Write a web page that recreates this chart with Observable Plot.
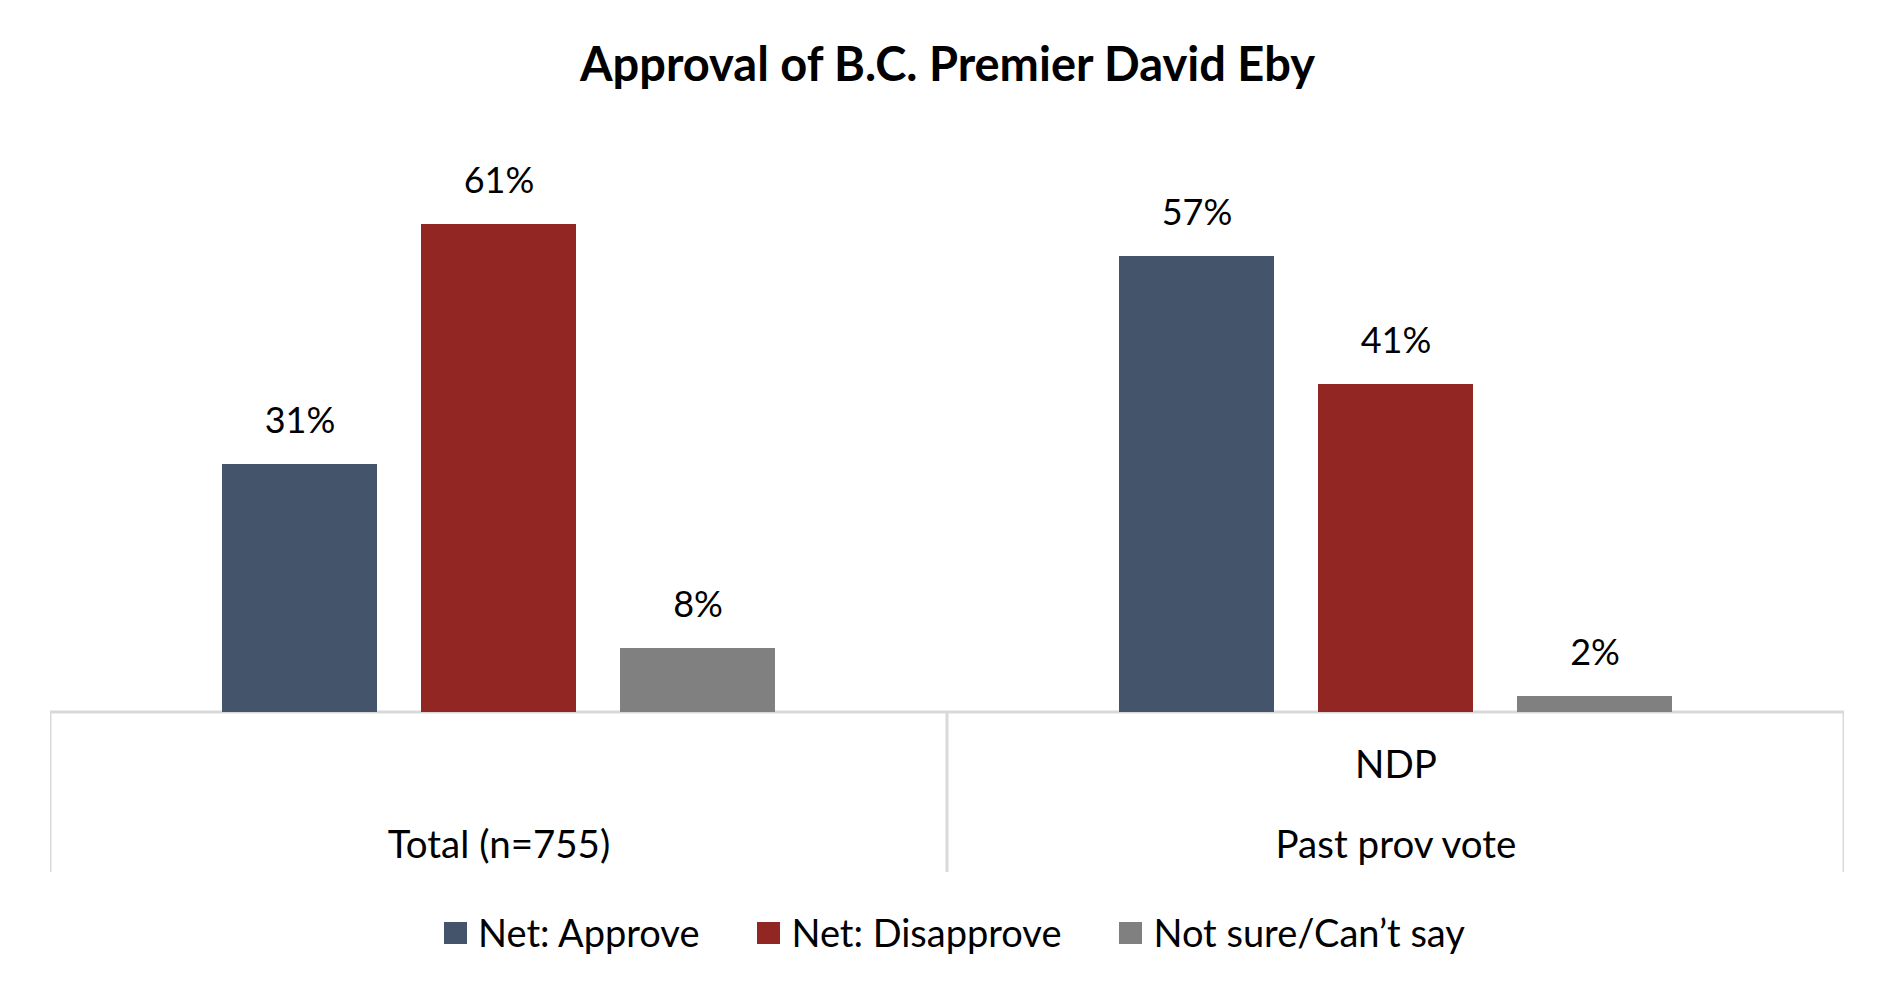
<!DOCTYPE html>
<html>
<head>
<meta charset="utf-8">
<script src="https://cdn.jsdelivr.net/npm/d3@7"></script>
<script src="https://cdn.jsdelivr.net/npm/@observablehq/plot@0.6"></script>
<style>
  html, body { margin: 0; padding: 0; background: #fff; }
  body { width: 1895px; height: 999px; position: relative; overflow: hidden; font-family: Lato, "Open Sans", sans-serif; color: #000; }
  #title { position: absolute; left: 0; top: 40px; width: 1895px; text-align: center; font-size: 47px; font-weight: 700; line-height: 1; }
  #chart { position: absolute; left: 0; top: 120px; }
  #legend { position: absolute; left: 0; top: 913px; width: 1895px; display: flex; justify-content: center; align-items: center; font-size: 38px; line-height: 1; padding-left: 14px; box-sizing: border-box; }
  .item { display: flex; align-items: center; margin: 0 29px; }
  .swatch { width: 23px; height: 22px; margin-right: 11px; margin-top: 2px; }
</style>
</head>
<body>
<div id="title">Approval of B.C. Premier David Eby</div>
<div id="chart"></div>
<div id="legend"></div>
<script>
// ---- data ----
const groups = ["Total (n=755)", "NDP"];
const outerLabels = ["Total (n=755)", "Past prov vote"];
const innerLabels = ["", "NDP"];
const series = ["Net: Approve", "Net: Disapprove", "Not sure/Can\u2019t say"];
const colors = ["#44546A", "#922622", "#808080"];
const approve = [31, 57];
const disapprove = [61, 41];
const notSure = [8, 2];

// ---- tables built from the arrays ----
const seriesValues = [approve, disapprove, notSure];
const rows = groups.flatMap((g, i) => series.map((s, j) => ({group: g, series: s, value: seriesValues[j][i]})));
const groupRows = groups.map((g, i) => ({group: g, outer: outerLabels[i], inner: innerLabels[i]}));

const chart = Plot.plot({
  width: 1895,
  height: 772,
  marginLeft: 50,
  marginRight: 51,
  marginTop: 32,
  marginBottom: 20,
  style: {fontFamily: "Lato, 'Open Sans', sans-serif", color: "#000", background: "#fff"},
  fx: {domain: groups, padding: 0, axis: null},
  x: {domain: series, paddingInner: 0.22, paddingOuter: 0.853, axis: null},
  y: {domain: [-20, 70], axis: null},
  color: {domain: series, range: colors},
  marks: [
    Plot.rect(groupRows, {fx: "group", y1: () => -200, y2: () => 0, fill: "none", stroke: "#D9D9D9", strokeWidth: 3, clip: true}),
    Plot.barY(rows, {fx: "group", x: "series", y: "value", fill: "series"}),
    Plot.text(rows, {fx: "group", x: "series", y: "value", text: d => d.value + "%", lineAnchor: "bottom", dy: -32, fontSize: 36, fill: "#000"}),
    Plot.text(groupRows, {fx: "group", text: "outer", frameAnchor: "bottom", lineAnchor: "bottom", dy: -15, fontSize: 38.5, fill: "#000"}),
    Plot.text(groupRows, {fx: "group", text: "inner", frameAnchor: "bottom", lineAnchor: "bottom", dy: -95, fontSize: 38.5, fill: "#000"})
  ]
});
document.getElementById("chart").appendChild(chart);

// ---- legend ----
const legend = document.getElementById("legend");
series.forEach((s, i) => {
  const item = document.createElement("div");
  item.className = "item";
  const sw = document.createElement("div");
  sw.className = "swatch";
  sw.style.background = colors[i];
  const label = document.createElement("span");
  label.textContent = s;
  item.appendChild(sw);
  item.appendChild(label);
  legend.appendChild(item);
});
</script>
</body>
</html>
